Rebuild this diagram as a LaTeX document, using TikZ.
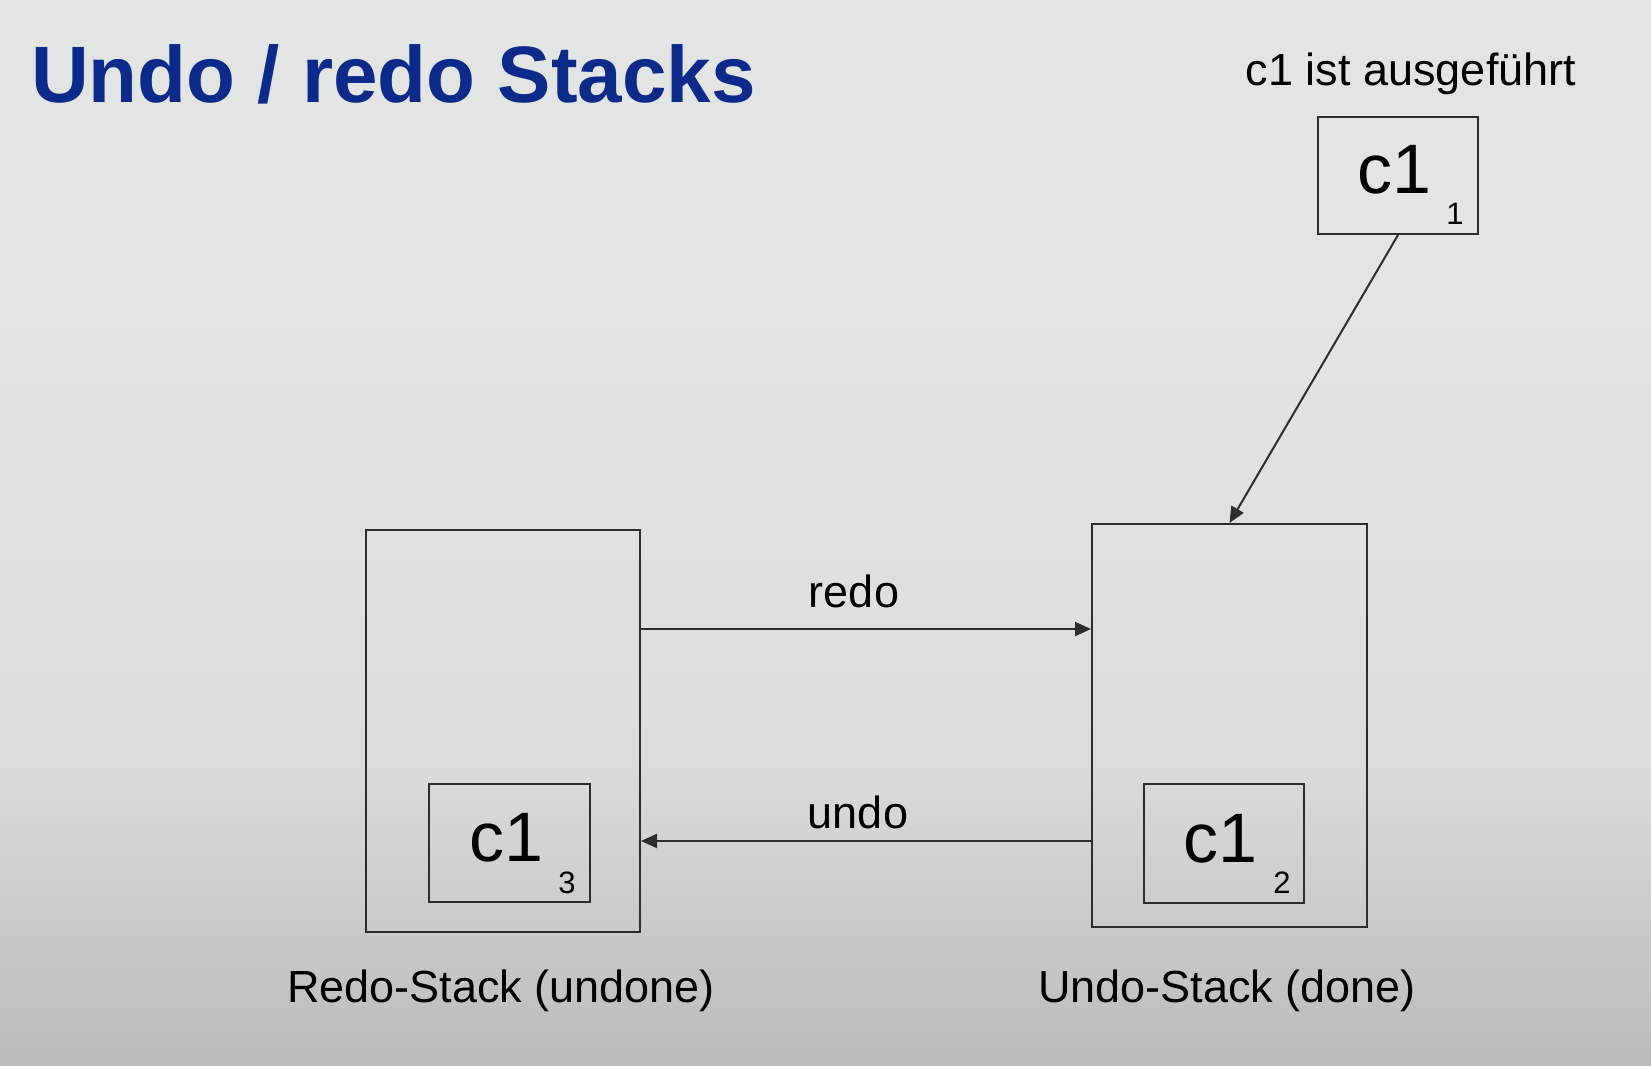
\documentclass[tikz,border=0pt]{standalone}
\usepackage{fontspec}
\setmainfont{Liberation Sans}
\usetikzlibrary{arrows.meta}
\definecolor{titleblue}{RGB}{12,42,138}
\definecolor{bgtop}{RGB}{227,228,228}
\definecolor{bgmid}{RGB}{220,220,220}
\definecolor{bgbot}{RGB}{187,187,187}
\definecolor{linegray}{RGB}{45,45,45}
\tikzset{
  stackbox/.style={draw=linegray, line width=2pt, inner sep=0pt, rectangle},
  cmdbox/.style={draw=linegray, line width=2pt, inner sep=0pt, rectangle, minimum width=160pt, minimum height=118pt},
  bigc/.style={inner sep=0pt, anchor=base, font=\fontsize{70}{80}\selectfont},
  subnum/.style={inner sep=0pt, anchor=base, font=\fontsize{31}{36}\selectfont},
  lbl/.style={inner sep=0pt, anchor=base, font=\fontsize{45}{54}\selectfont},
  arr/.style={draw=linegray, line width=2pt, -{Triangle[length=16pt,width=14pt]}},
}
\begin{document}
\begin{tikzpicture}[x=1pt,y=-1pt]
\useasboundingbox (0,0) rectangle (1651,1065);
% background
\fill[bgtop] (0,0) rectangle (1651,300);
\shade[top color=bgtop, bottom color=bgmid] (0,299) rectangle (1651,760);
\shade[top color=bgmid, bottom color=bgbot] (0,759) rectangle (1651,1065);
% title
\node[inner sep=0pt, anchor=base west, text=titleblue, font=\fontsize{80}{90}\selectfont\bfseries] (title) at (31,102) {Undo / redo Stacks};
% top command
\node[lbl] (exec) at (1411,85) {c1 ist ausgeführt};
\node[cmdbox, minimum height=117pt] (top) at (1398,175.5) {};
\node[bigc] (topc) at (1394,193) {c1};
\node[subnum] (topn) at (1455,224) {1};
% stacks
\node[stackbox, minimum width=274pt, minimum height=402pt] (redo) at (503,731) {};
\node[stackbox, minimum width=275pt, minimum height=403pt] (undo) at (1229.5,725.5) {};
% inner commands
\node[cmdbox, minimum width=161pt] (redoc) at (509.5,843) {};
\node[bigc] (redoct) at (506,861) {c1};
\node[subnum] (redocn) at (567,893) {3};
\node[cmdbox, minimum height=119pt] (undoc) at (1224,843.5) {};
\node[bigc] (undoct) at (1220,862) {c1};
\node[subnum] (undocn) at (1282,893) {2};
% arrows
\coordinate (redoy) at (0,629);
\coordinate (undoy) at (0,841);
\draw[arr] (redo.east |- redoy) -- (undo.west |- redoy);
\draw[arr] (undo.west |- undoy) -- (redo.east |- undoy);
\draw[arr] (top.south) -- (undo.north);
\node[lbl] (redolbl) at (854,607) {redo};
\node[lbl] (undolbl) at (858,828) {undo};
% stack labels
\node[lbl] (redoname) at (501,1002) {Redo-Stack (undone)};
\node[lbl] (undoname) at (1227,1002) {Undo-Stack (done)};
\end{tikzpicture}
\end{document}
